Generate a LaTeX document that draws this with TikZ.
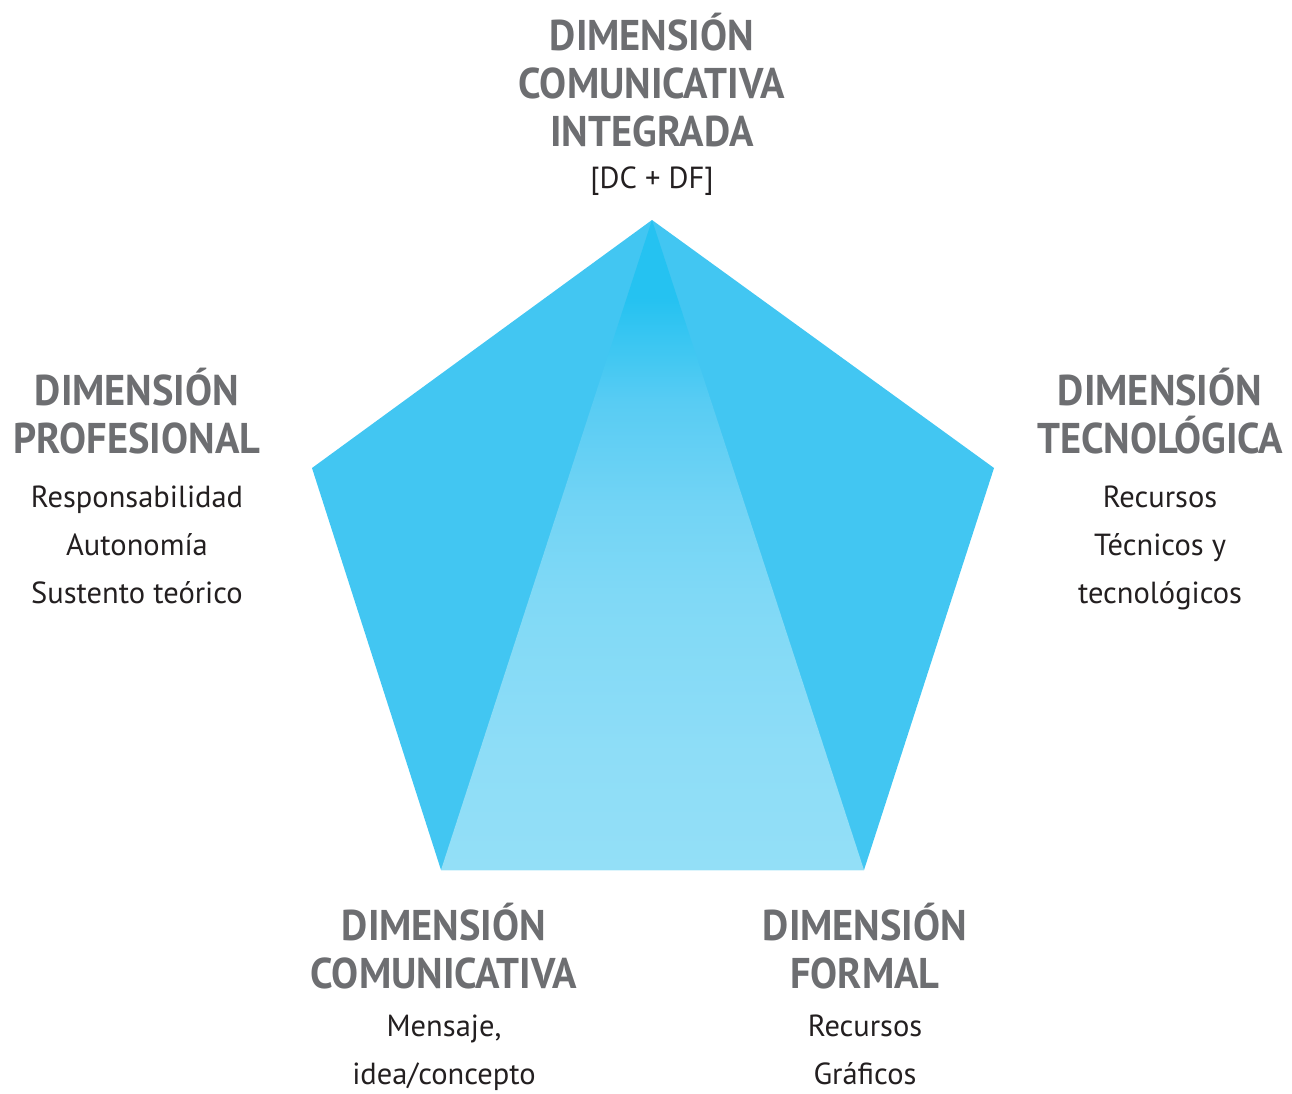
\documentclass[tikz,border=0pt]{standalone}
\usepackage{fontspec}
\setmainfont{PT Sans}
\newfontfamily\titlefont[FakeStretch=0.94]{PT Sans}
\usepackage{xcolor}
\usetikzlibrary{positioning}
\definecolor{pentaBlue}{HTML}{42C6F2}
\definecolor{triDark}{HTML}{25C2F1}
\definecolor{triMidA}{HTML}{58CCF3}
\definecolor{triMidB}{HTML}{72D4F5}
\definecolor{triMidC}{HTML}{80D9F6}
\definecolor{triMidD}{HTML}{8EDDF7}
\definecolor{triLight}{HTML}{93DFF7}
\definecolor{dimGray}{HTML}{6D6E71}
\definecolor{dimBlack}{HTML}{231F20}
\pgfdeclareverticalshading{tri-shade}{100bp}{color(0bp)=(triLight); color(25bp)=(triLight); color(34bp)=(triMidD); color(46bp)=(triMidC); color(53bp)=(triMidB); color(61bp)=(triMidA); color(69bp)=(triDark); color(75bp)=(triDark); color(100bp)=(triDark)}
\tikzset{
    dim-title/.style = {text=dimGray, font=\titlefont\fontsize{43}{48}\selectfont\bfseries, align=center, inner sep=0pt},
    dim-text/.style = {text=dimBlack, font=\fontsize{30.5}{48}\selectfont, align=center, inner sep=0pt},
}

\begin{document}
\begin{tikzpicture}[x=1pt, y=-1pt]
\useasboundingbox (0,0) rectangle (1292,1093);
% pentagon corners
\coordinate (top) at (652,220);
\coordinate (left) at (312,468);
\coordinate (right) at (994,468);
\coordinate (bl) at (441,870);
\coordinate (br) at (864,870);
\fill[pentaBlue] (top) -- (right) -- (br) -- (bl) -- (left) -- cycle;
\shade[shading=tri-shade] (top) -- (br) -- (bl) -- cycle;

\node[dim-title] (integ-title) at (652,80) {DIMENSIÓN\\COMUNICATIVA\\INTEGRADA};
\node[dim-text, below=19pt of integ-title] (integ-text) {[DC + DF]};

\node[dim-title] (prof-title) at (137,411) {DIMENSIÓN\\PROFESIONAL};
\node[dim-text, below=31pt of prof-title] (prof-text) {Responsabilidad\\Autonomía\\Sustento teórico};

\node[dim-title] (tec-title) at (1160,411) {DIMENSIÓN\\TECNOLÓGICA};
\node[dim-text, below=31pt of tec-title] (tec-text) {Recursos\\Técnicos y\\tecnológicos};

\node[dim-title] (com-title) at (444,946) {DIMENSIÓN\\COMUNICATIVA};
\node[dim-text, below=25pt of com-title] (com-text) {Mensaje,\\idea/concepto};

\node[dim-title] (form-title) at (865,946) {DIMENSIÓN\\FORMAL};
\node[dim-text, below=25pt of form-title] (form-text) {Recursos\\Gráficos};
\end{tikzpicture}
\end{document}
